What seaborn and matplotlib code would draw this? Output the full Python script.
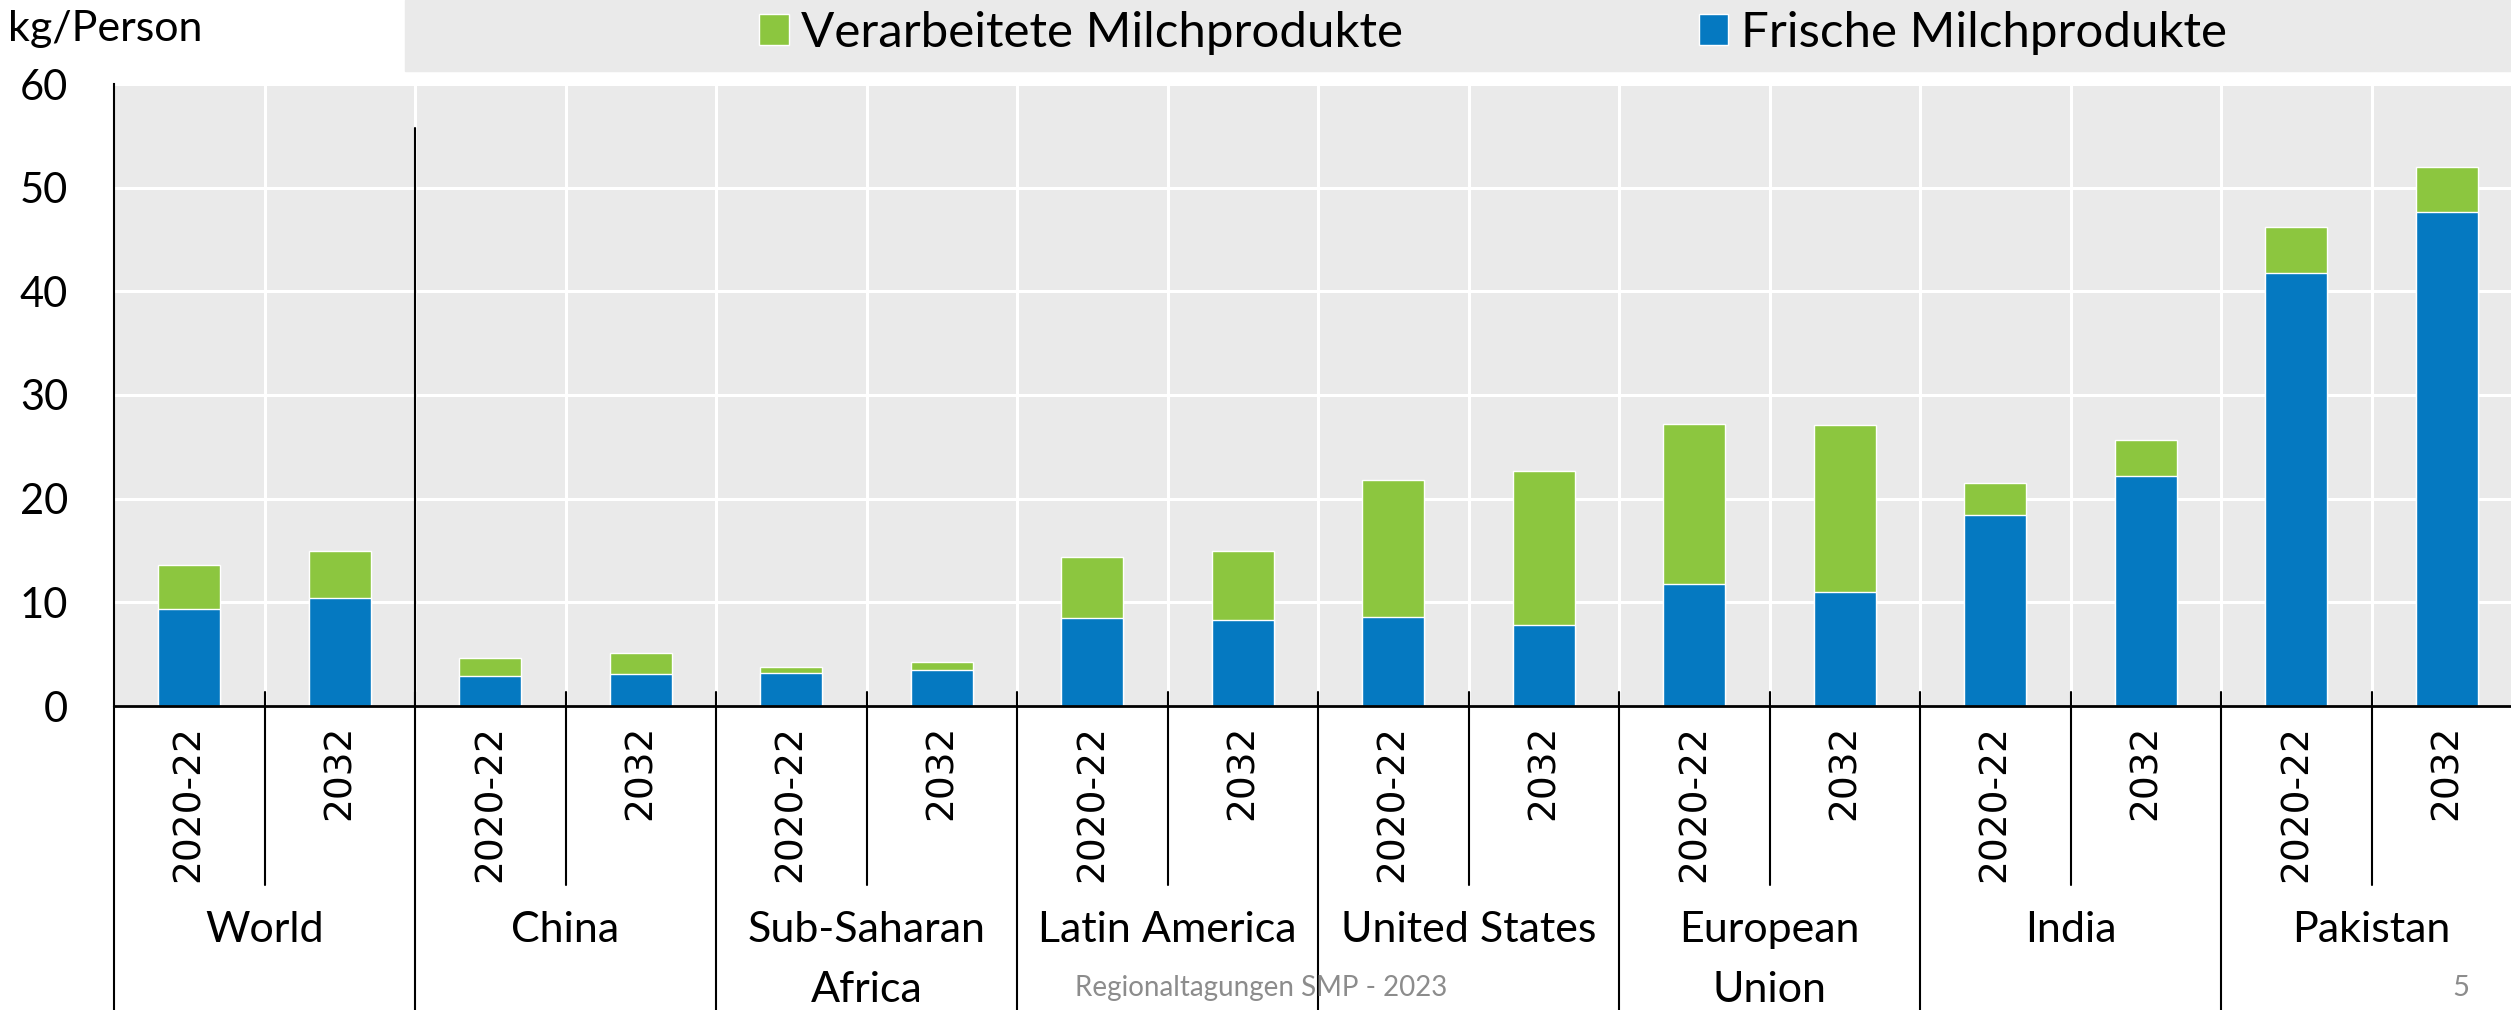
import numpy as np
import pandas as pd
import seaborn as sns
import matplotlib.pyplot as plt
import matplotlib.transforms as mtransforms
from matplotlib.patches import Rectangle

# Daten (kg/Person)
regions = ["World", "China", "Sub-Saharan\nAfrica", "Latin America", "United States",
           "European\nUnion", "India", "Pakistan"]
periods = ["2020-22", "2032"]
fresh = [9.4, 10.4, 2.9, 3.1, 3.2, 3.5, 8.5, 8.3, 8.6, 7.8, 11.8, 11.0, 18.4, 22.2, 41.8, 47.7]
processed = [4.2, 4.6, 1.7, 2.0, 0.6, 0.7, 5.9, 6.7, 13.2, 14.9, 15.4, 16.1, 3.1, 3.5, 4.4, 4.3]
yticks = [0, 10, 20, 30, 40, 50, 60]

green = "#8CC63F"
blue = "#0579C1"
bg = "#EAEAEA"

df = pd.DataFrame({
    "region": np.repeat(regions, len(periods)),
    "period": periods * len(regions),
    "fresh": fresh,
    "processed": processed,
})
df["key"] = df["region"] + " " + df["period"]
df["total"] = df["fresh"] + df["processed"]

sns.set_theme(style="darkgrid")
plt.rcParams["font.family"] = ["Lato", "DejaVu Sans"]

W, H = 2511, 1010
fig = plt.figure(figsize=(W / 100, H / 100), dpi=100)
fig.patch.set_facecolor("white")
ax = fig.add_axes([114 / W, 304 / H, 2408 / W, 622 / H])
ax.set_facecolor(bg)

# gestapelte Balken: Summe (grün) hinten, frisch (blau) davor
sns.barplot(data=df, x="key", y="total", color=green, width=0.41, saturation=1,
            errorbar=None, ax=ax, label="Verarbeitete Milchprodukte")
sns.barplot(data=df, x="key", y="fresh", color=blue, width=0.41, saturation=1,
            errorbar=None, ax=ax, label="Frische Milchprodukte")
handles, labels = ax.get_legend_handles_labels()
if ax.get_legend() is not None:
    ax.get_legend().remove()

ax.set_xlim(-0.5, len(df) - 0.5)
ax.set_ylim(0, 60)
ax.set_yticks(yticks)
ax.set_xlabel("")
ax.set_ylabel("")

# Gitter
ax.grid(False)
ax.set_xticks(np.arange(0.5, len(df) - 1, 1), minor=True)
ax.grid(axis="y", which="major", color="white", lw=2.2)
ax.grid(axis="x", which="minor", color="white", lw=2.2)
ax.set_axisbelow(True)

ax.set_xticks(range(len(df)))
ax.set_xticklabels(df["period"], rotation=90, fontfamily="DejaVu Sans", fontsize=27)
ax.tick_params(axis="x", which="both", length=0, pad=13.5, colors="black")
ax.tick_params(axis="y", direction="in", length=10, width=1.5, color="black",
               labelsize=30, pad=33, labelcolor="black")

for s in ["top", "right"]:
    ax.spines[s].set_visible(False)
ax.spines["left"].set_color("black")
ax.spines["left"].set_linewidth(1.5)
ax.spines["bottom"].set_color("black")
ax.spines["bottom"].set_linewidth(2)

# Trennlinien der Kategorieachse
trans = mtransforms.blended_transform_factory(ax.transData, ax.transAxes)
ax.plot([-0.5, -0.5], [0, -0.489], transform=trans, color="black", lw=1.5, clip_on=False)
for i in range(len(regions)):
    ax.plot([2 * i + 0.5] * 2, [0.0225, -0.288], transform=trans, color="black",
            lw=1.5, clip_on=False)
    if i > 0:
        ax.plot([2 * i - 0.5] * 2, [0.0225, -0.489], transform=trans, color="black",
                lw=1.5, clip_on=False)
    ax.text(2 * i + 0.5, -0.33, regions[i], transform=trans, ha="center", va="top",
            fontsize=31, linespacing=1.7, color="black")
# Trennung Welt / Regionen im Diagramm
ax.plot([1.5, 1.5], [0, 0.929], transform=trans, color="black", lw=1.5)

# Legende im grauen Band
fig.patches.append(Rectangle((405 / W, 1 - 71 / H), 1 - 405 / W, 71 / H,
                             transform=fig.transFigure, color=bg, zorder=0))
fig.legend(handles, labels, ncol=2, frameon=False, loc="center left",
           bbox_to_anchor=(759 / W, 1 - 33 / H), fontsize=35.5, handlelength=0.6,
           handleheight=0.6, handletextpad=0.25, columnspacing=6.0,
           borderpad=0, borderaxespad=0, labelcolor="black")

fig.text(8 / W, 1 - 29 / H, "kg/Person", ha="left", va="center", fontsize=31, color="black")
fig.text(1261 / W, 1 - 988 / H, "Regionaltagungen SMP - 2023", ha="center", va="center",
         fontsize=20, color="#8C8C8C", zorder=5)
fig.text(2461 / W, 1 - 988 / H, "5", ha="center", va="center", fontsize=21, color="#8C8C8C")

fig.savefig("out.png", dpi=100)
